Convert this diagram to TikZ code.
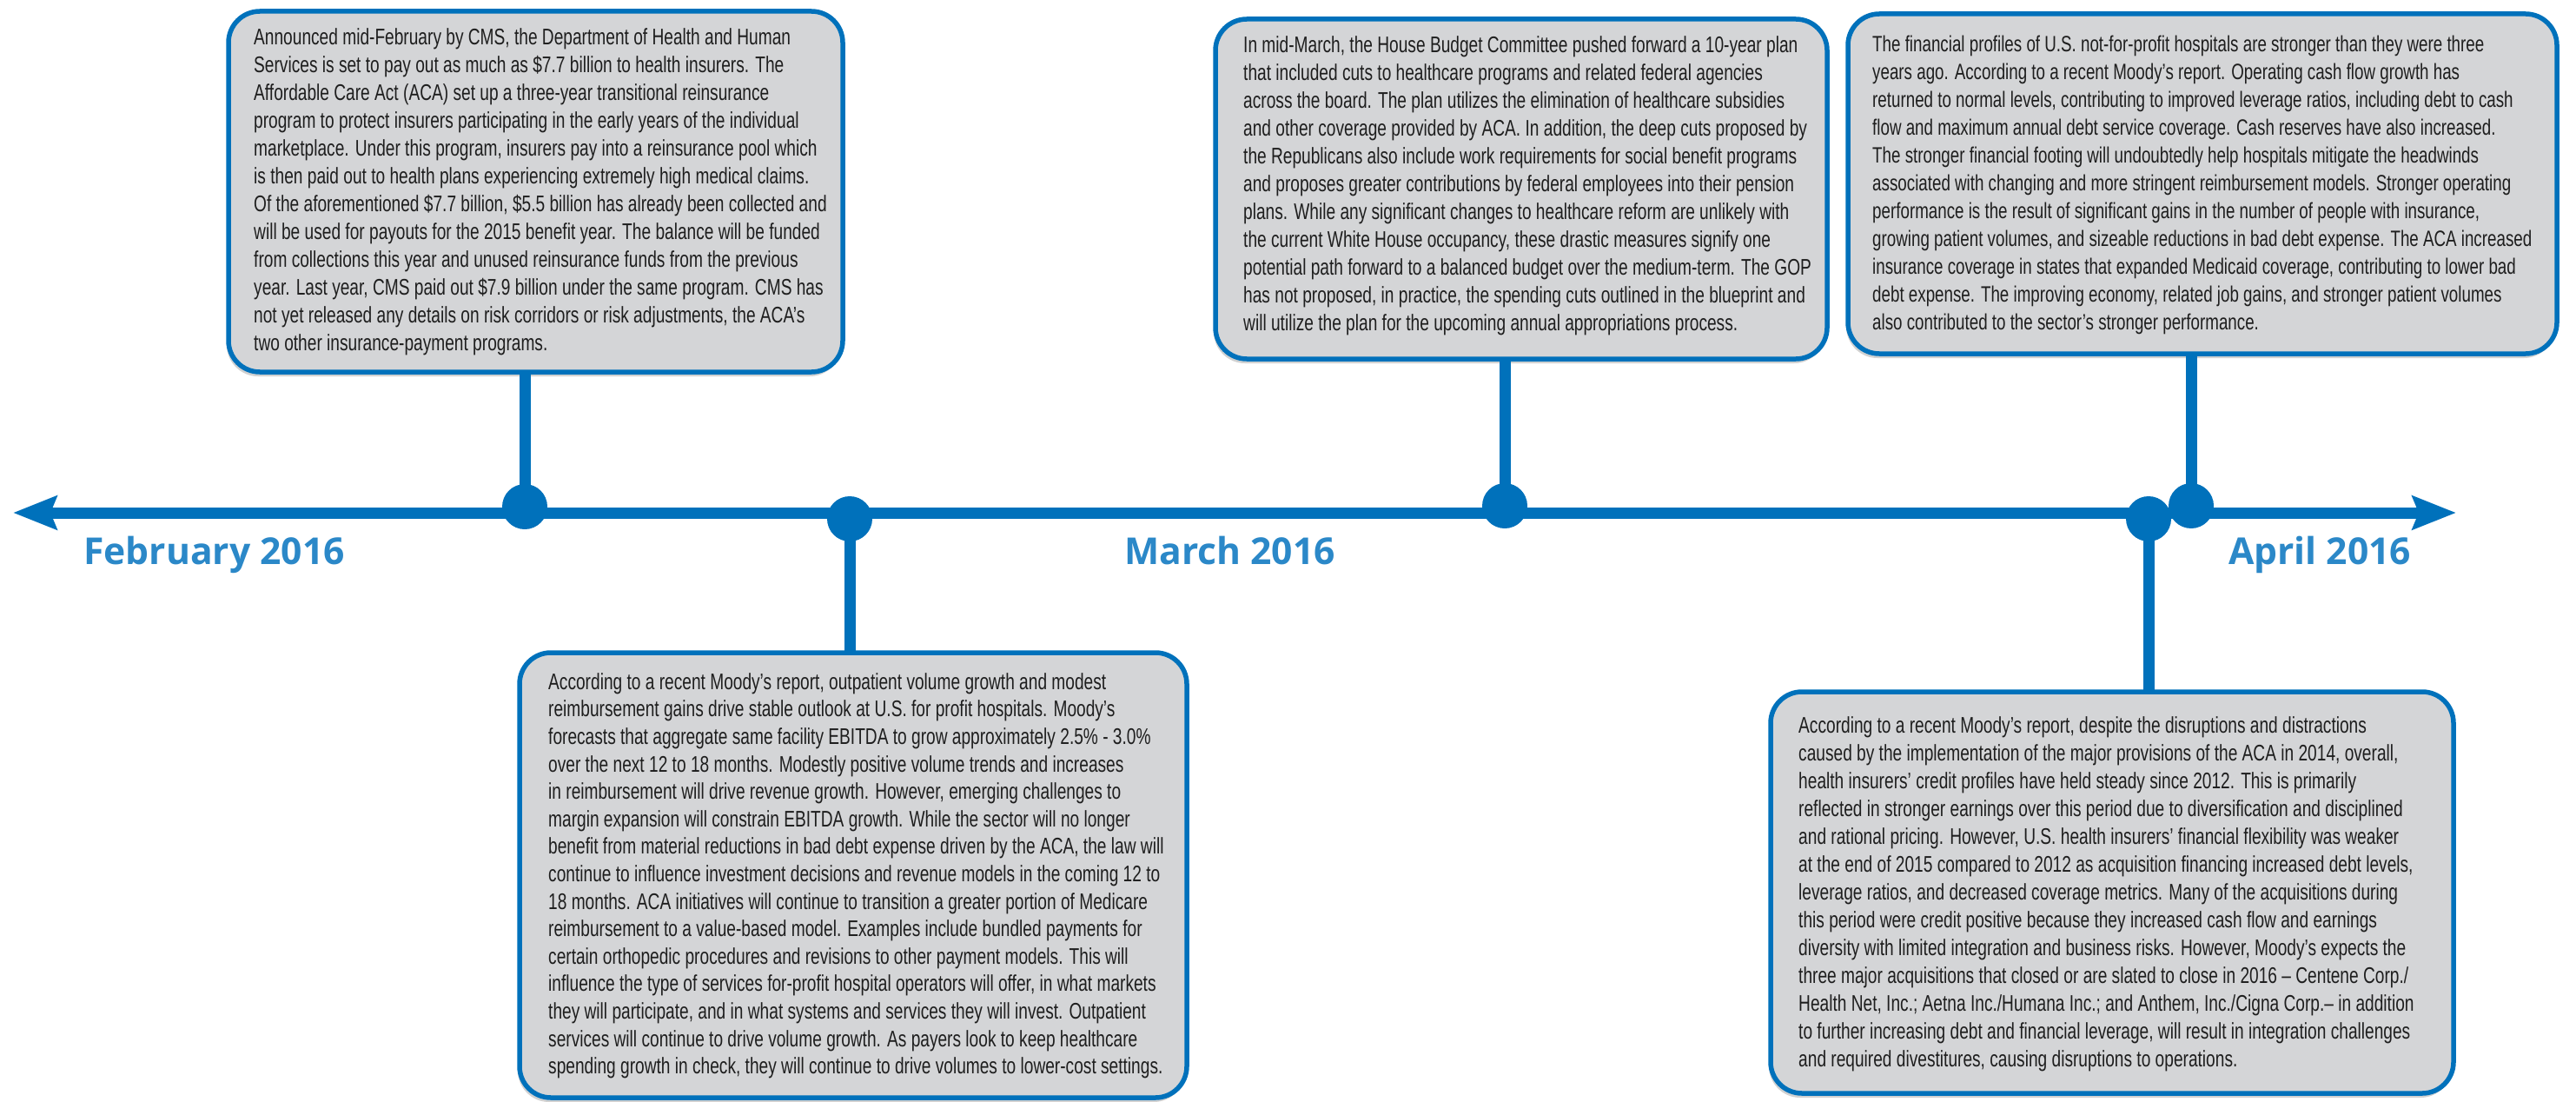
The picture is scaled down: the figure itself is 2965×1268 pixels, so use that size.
\documentclass[tikz,border=0pt]{standalone}
\usepackage{fontspec}
\newfontfamily\boxfont[FakeStretch=0.736]{Liberation Sans}
\newfontfamily\labelfont{Open Sans}
\usetikzlibrary{arrows.meta,shadows}
\definecolor{tlblue}{HTML}{0071BB}
\definecolor{lblblue}{HTML}{2B88C8}
\definecolor{boxgray}{HTML}{D4D5D7}
\definecolor{txtcol}{HTML}{1E1E1E}
\newcommand\tlstrut{\rule{0pt}{22pt}}
\begin{document}
\begin{tikzpicture}[x=1pt,y=-1pt,
  panel/.style={draw=tlblue, line width=5.5pt, fill=boxgray, rounded corners=36pt,
    inner sep=0pt, outer sep=0pt,
    drop shadow={shadow xshift=-2pt, shadow yshift=-5pt, opacity=0.3, fill=black!60}},
  paneltext/.style={anchor=north west, inner sep=0pt, align=left, text=txtcol,
    font=\boxfont\fontsize{26}{32}\selectfont},
  dot/.style={circle, fill=tlblue, minimum size=52pt, inner sep=0pt},
  stem/.style={draw=tlblue, line width=13pt},
  tline/.style={draw=tlblue, line width=13pt,
    {Stealth[length=50pt,width=38pt,inset=7pt]}-{Stealth[length=50pt,width=38pt,inset=7pt]}},
  month/.style={anchor=base west, inner sep=0pt, text=lblblue,
    font=\labelfont\bfseries\fontsize{42.6}{50}\selectfont}
]
\useasboundingbox (0,0) rectangle (2965,1268);

% panels
\node[panel, minimum width=707pt, minimum height=415pt] (b1) at (616.5,220.5) {};
\node[panel, minimum width=704pt, minimum height=391pt] (b2) at (1751,217.5) {};
\node[panel, minimum width=816pt, minimum height=391pt] (b3) at (2535,211.5) {};
\node[panel, minimum width=768pt, minimum height=512pt] (b4) at (982,1007) {};
\node[panel, minimum width=786pt, minimum height=462pt] (b5) at (2431,1027) {};

% texts
\node[paneltext] (t1) at (292,29) {\tlstrut Announced mid-February by CMS, the Department of Health and Human\\
Services is set to pay out as much as \$7.7 billion to health insurers. The\\
Affordable Care Act (ACA) set up a three-year transitional reinsurance\\
program to protect insurers participating in the early years of the individual\\
marketplace. Under this program, insurers pay into a reinsurance pool which\\
is then paid out to health plans experiencing extremely high medical claims.\\
Of the aforementioned \$7.7 billion, \$5.5 billion has already been collected and\\
will be used for payouts for the 2015 benefit year. The balance will be funded\\
from collections this year and unused reinsurance funds from the previous\\
year. Last year, CMS paid out \$7.9 billion under the same program. CMS has\\
not yet released any details on risk corridors or risk adjustments, the ACA’s\\
two other insurance-payment programs.};

\node[paneltext] (t2) at (1431,38) {\tlstrut In mid-March, the House Budget Committee pushed forward a 10-year plan\\
that included cuts to healthcare programs and related federal agencies\\
across the board. The plan utilizes the elimination of healthcare subsidies\\
and other coverage provided by ACA. In addition, the deep cuts proposed by\\
the Republicans also include work requirements for social benefit programs\\
and proposes greater contributions by federal employees into their pension\\
plans. While any significant changes to healthcare reform are unlikely with\\
the current White House occupancy, these drastic measures signify one\\
potential path forward to a balanced budget over the medium-term. The GOP\\
has not proposed, in practice, the spending cuts outlined in the blueprint and\\
will utilize the plan for the upcoming annual appropriations process.};

\node[paneltext, font=\boxfont\fontsize{25.5}{32}\selectfont] (t3) at (2155,37) {\tlstrut The financial profiles of U.S. not-for-profit hospitals are stronger than they were three\\
years ago. According to a recent Moody’s report. Operating cash flow growth has\\
returned to normal levels, contributing to improved leverage ratios, including debt to cash\\
flow and maximum annual debt service coverage. Cash reserves have also increased.\\
The stronger financial footing will undoubtedly help hospitals mitigate the headwinds\\
associated with changing and more stringent reimbursement models. Stronger operating\\
performance is the result of significant gains in the number of people with insurance,\\
growing patient volumes, and sizeable reductions in bad debt expense. The ACA increased\\
insurance coverage in states that expanded Medicaid coverage, contributing to lower bad\\
debt expense. The improving economy, related job gains, and stronger patient volumes\\
also contributed to the sector’s stronger performance.};

\node[paneltext, font=\boxfont\fontsize{26}{31.6}\selectfont] (t4) at (631,771) {\tlstrut According to a recent Moody’s report, outpatient volume growth and modest\\
reimbursement gains drive stable outlook at U.S. for profit hospitals. Moody’s\\
forecasts that aggregate same facility EBITDA to grow approximately 2.5\% - 3.0\%\\
over the next 12 to 18 months. Modestly positive volume trends and increases\\
in reimbursement will drive revenue growth. However, emerging challenges to\\
margin expansion will constrain EBITDA growth. While the sector will no longer\\
benefit from material reductions in bad debt expense driven by the ACA, the law will\\
continue to influence investment decisions and revenue models in the coming 12 to\\
18 months. ACA initiatives will continue to transition a greater portion of Medicare\\
reimbursement to a value-based model. Examples include bundled payments for\\
certain orthopedic procedures and revisions to other payment models. This will\\
influence the type of services for-profit hospital operators will offer, in what markets\\
they will participate, and in what systems and services they will invest. Outpatient\\
services will continue to drive volume growth. As payers look to keep healthcare\\
spending growth in check, they will continue to drive volumes to lower-cost settings.};

\node[paneltext] (t5) at (2070,821) {\tlstrut According to a recent Moody’s report, despite the disruptions and distractions\\
caused by the implementation of the major provisions of the ACA in 2014, overall,\\
health insurers’ credit profiles have held steady since 2012. This is primarily\\
reflected in stronger earnings over this period due to diversification and disciplined\\
and rational pricing. However, U.S. health insurers’ financial flexibility was weaker\\
at the end of 2015 compared to 2012 as acquisition financing increased debt levels,\\
leverage ratios, and decreased coverage metrics. Many of the acquisitions during\\
this period were credit positive because they increased cash flow and earnings\\
diversity with limited integration and business risks. However, Moody’s expects the\\
three major acquisitions that closed or are slated to close in 2016 – Centene Corp./\\
Health Net, Inc.; Aetna Inc./Humana Inc.; and Anthem, Inc./Cigna Corp.– in addition\\
to further increasing debt and financial leverage, will result in integration challenges\\
and required divestitures, causing disruptions to operations.};

% dots positions
\coordinate (p1) at (604,583);
\coordinate (p2) at (978,597);
\coordinate (p3) at (1732,582);
\coordinate (p4) at (2473,597);
\coordinate (p5) at (2522,582);

% stems
\draw[stem] (p1) -- (p1 |- b1.south);
\draw[stem] (p2) -- (p2 |- b4.north);
\draw[stem] (p3) -- (p3 |- b2.south);
\draw[stem] (p4) -- (p4 |- b5.north);
\draw[stem] (p5) -- (p5 |- b3.south);

% timeline
\coordinate (tl) at (15,590);
\coordinate (tr) at (2827,590);
\draw[tline] (tl) -- (tr);

% dots
\node[dot] (d1) at (p1) {};
\node[dot] (d2) at (p2) {};
\node[dot] (d3) at (p3) {};
\node[dot] (d4) at (p4) {};
\node[dot] (d5) at (p5) {};

% month labels
\node[month] (lfeb) at (96,649) {February 2016};
\node[month] (lmar) at (1294,649) {March 2016};
\node[month] (lapr) at (2565,649) {April 2016};
\end{tikzpicture}
\end{document}
